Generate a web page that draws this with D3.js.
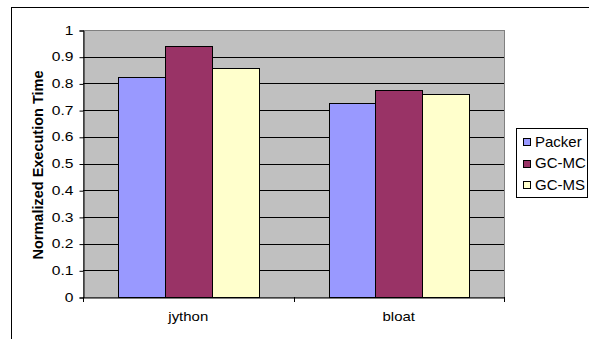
<!DOCTYPE html>
<html><head><meta charset="utf-8">
<script src="https://cdn.jsdelivr.net/npm/d3@7"></script>
<style>body{margin:0;background:#fff}svg{display:block}text{font-family:"Liberation Sans",Arial,sans-serif}</style>
</head><body>
<script>
const categories = ["jython", "bloat"];
const seriesNames = ["Packer", "GC-MC", "GC-MS"];
const packer = [0.825, 0.725];
const gcmc = [0.94, 0.775];
const gcms = [0.858, 0.759];
const seriesColors = ["#9999FF", "#993366", "#FFFFCC"];
const yTicks = [0, 0.1, 0.2, 0.3, 0.4, 0.5, 0.6, 0.7, 0.8, 0.9, 1];
const yTitle = "Normalized Execution Time";

const seriesValues = [packer, gcmc, gcms];
const W = 589, H = 339;
const svg = d3.select("body").append("svg").attr("width", W).attr("height", H);

// outer chart frame (clipped at right and bottom)
svg.append("rect").attr("x", 11.5).attr("y", 7.5).attr("width", 700).attr("height", 500)
  .attr("fill", "none").attr("stroke", "#000");

const L = 83, R = 504, T = 30, B = 297;
const x = d3.scaleBand().domain(categories).range([L, R]).paddingInner(0).paddingOuter(0);
const y = d3.scaleLinear().domain([0, 1]).range([B, T]);

// plot background
svg.append("rect").attr("x", L).attr("y", T).attr("width", R - L).attr("height", B - T)
  .attr("fill", "#C0C0C0").attr("stroke", "#808080").attr("stroke-width", 1)
  .attr("shape-rendering", "crispEdges");

// gridlines
svg.append("g").selectAll("line").data(yTicks.filter(d => d > 0 && d < 1)).join("line")
  .attr("x1", L).attr("x2", R).attr("y1", d => Math.round(y(d)) + 0.5).attr("y2", d => Math.round(y(d)) + 0.5)
  .attr("stroke", "#000").attr("stroke-width", 1);

// bars
const groupW = x.bandwidth();
const barW = groupW / 4.5;
const xs = d3.scaleBand().domain(seriesNames).range([0, barW * 3]);
const g = svg.append("g");
categories.forEach((c, ci) => {
  const x0 = x(c) + (groupW - barW * 3) / 2;
  seriesNames.forEach((s, si) => {
    const v = seriesValues[si][ci];
    g.append("rect")
      .attr("x", Math.round(x0 + xs(s)) + 0.5)
      .attr("y", Math.round(y(v)) + 0.5)
      .attr("width", Math.round(barW))
      .attr("height", Math.round(y(0)) - Math.round(y(v)))
      .attr("fill", seriesColors[si]).attr("stroke", "#000").attr("stroke-width", 1);
  });
});

// y axis (line + ticks)
const yAxis = d3.axisLeft(y).tickValues(yTicks).tickSize(4).tickFormat("");
const ya = svg.append("g").attr("transform", `translate(${L + 0.5},0.5)`).call(yAxis);
ya.select(".domain").attr("stroke", "#000");
ya.selectAll(".tick line").attr("stroke", "#000");
// y tick labels (slightly wide glyphs as in reference)
svg.append("g").selectAll("text").data(yTicks).join("text")
  .attr("transform", d => `translate(73.5,${y(d)}) scale(1.2,1)`)
  .attr("dy", "0.36em").attr("text-anchor", "end").attr("font-size", 13).attr("fill", "#000")
  .text(d => d3.format("")(Math.round(d * 10) / 10));

// x axis
const xAxis = d3.axisBottom(x).tickSize(0).tickFormat("");
const xa = svg.append("g").attr("transform", `translate(0,${B + 0.5})`).call(xAxis);
xa.select(".domain").attr("stroke", "#000");
svg.append("g").selectAll("text").data(categories).join("text")
  .attr("transform", d => `translate(${x(d) + x.bandwidth() / 2},321) scale(1.15,1)`)
  .attr("text-anchor", "middle").attr("font-size", 13).attr("fill", "#000").text(d => d);
// category boundary ticks
const bounds = [L, ...categories.map(c => x(c) + x.bandwidth())];
svg.append("g").selectAll("line").data(bounds).join("line")
  .attr("x1", d => Math.round(d) + 0.5).attr("x2", d => Math.round(d) + 0.5)
  .attr("y1", B).attr("y2", B + 5).attr("stroke", "#000");

// y title
svg.append("text").attr("transform", `translate(43,165) rotate(-90)`)
  .attr("text-anchor", "middle").attr("font-size", 14.5).attr("font-weight", "bold").text(yTitle);

// legend
const lg = svg.append("g");
lg.append("rect").attr("x", 516.5).attr("y", 128.5).attr("width", 71).attr("height", 69)
  .attr("fill", "#fff").attr("stroke", "#000");
seriesNames.forEach((s, i) => {
  const cy = 141 + i * 21.7;
  lg.append("rect").attr("x", 523.5).attr("y", Math.round(cy - 3) + 0.5).attr("width", 7).attr("height", 7)
    .attr("fill", seriesColors[i]).attr("stroke", "#000");
  lg.append("text").attr("x", 535).attr("y", cy + 5.5).attr("font-size", 15).text(s);
});
</script>
</body></html>
